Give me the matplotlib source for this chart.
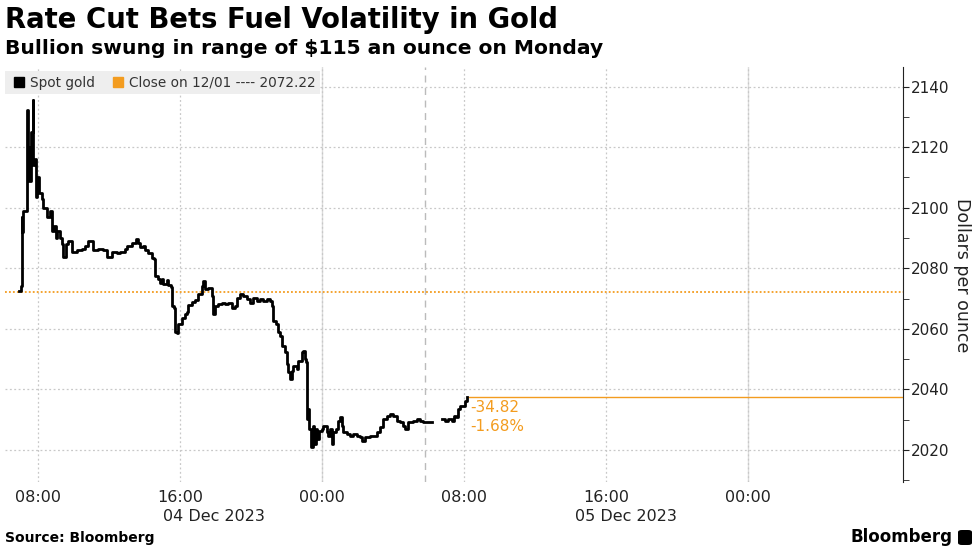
import numpy as np
import pandas as pd
import matplotlib
matplotlib.use("Agg")
import matplotlib.pyplot as plt
import matplotlib.dates as mdates
from matplotlib.lines import Line2D
from matplotlib.patches import FancyBboxPatch

# hours since 04 Dec 2023 00:00 and spot gold price (USD/oz)
hours = [6.95, 7.02, 7.08, 7.12, 7.17, 7.40, 7.45, 7.51, 7.59, 7.70, 7.74, 7.83, 7.89, 7.96,
         8.07, 8.21, 8.30, 8.49, 8.68, 8.77, 8.90, 9.00, 9.09, 9.24, 9.34, 9.43, 9.56, 9.71,
         9.90, 10.18, 10.46, 10.65, 10.83, 11.12, 11.40, 11.68, 11.87, 12.15, 12.43, 12.62,
         12.90, 13.00, 13.28, 13.50, 13.65, 13.75, 13.93, 14.03, 14.21, 14.41, 14.54, 14.59,
         14.78, 14.87, 14.97, 15.06, 15.25, 15.34, 15.49, 15.53, 15.66, 15.72, 15.85, 15.90,
         16.10, 16.28, 16.41, 16.47, 16.66, 16.85, 17.03, 17.22, 17.31, 17.41, 17.59, 17.79,
         17.88, 17.97, 18.16, 18.35, 18.54, 18.72, 18.91, 19.10, 19.19, 19.38, 19.57, 19.76,
         19.94, 20.13, 20.32, 20.51, 20.69, 20.88, 21.07, 21.17, 21.26, 21.41, 21.54, 21.63,
         21.73, 21.92, 22.01, 22.10, 22.20, 22.29, 22.38, 22.57, 22.66, 22.86, 22.95, 23.04,
         23.10, 23.14, 23.23, 23.29, 23.36, 23.48, 23.55, 23.66, 23.74, 23.85, 23.98, 24.07,
         24.26, 24.36, 24.45, 24.55, 24.64, 24.79, 24.92, 25.01, 25.11, 25.20, 25.39, 25.58,
         25.76, 25.95, 26.14, 26.24, 26.42, 26.70, 26.89, 27.08, 27.27, 27.45, 27.64, 27.83,
         28.02, 28.21, 28.39, 28.58, 28.68, 28.86, 29.14, 29.34, 29.52, 29.71, 30.20,
         30.74, 30.93, 31.11, 31.31, 31.44, 31.55, 31.68, 31.80, 31.91, 32.04, 32.17]
prices = [2072.5, 2074.0, 2096.8, 2092.0, 2099.0, 2132.4, 2120.0, 2108.8, 2125.0, 2135.7, 2114.0,
          2116.0, 2103.4, 2110.0, 2105.0, 2103.0, 2100.0, 2096.8, 2099.0, 2092.3, 2094.0, 2090.0,
          2092.4, 2090.0, 2088.0, 2083.6, 2088.0, 2089.0, 2085.3, 2086.0, 2086.5, 2087.5, 2089.0,
          2086.0, 2086.5, 2086.0, 2083.6, 2085.3, 2085.0, 2085.5,
          2086.4, 2087.4, 2088.5, 2089.8, 2088.5, 2087.0, 2087.5, 2086.0, 2085.0, 2083.5, 2083.0,
          2077.5, 2076.5, 2075.0, 2076.5, 2074.7, 2076.0, 2074.5, 2073.7, 2067.6, 2067.0, 2058.8,
          2058.5, 2061.5, 2063.5, 2064.8, 2065.5, 2068.0, 2069.0, 2069.5, 2071.4, 2074.2,
          2075.8, 2073.0, 2073.6, 2070.9, 2064.8, 2067.5, 2068.1, 2068.6, 2068.1, 2068.6, 2067.0,
          2067.5, 2070.3, 2071.4, 2070.9, 2069.8, 2068.6, 2070.3, 2069.2, 2069.8, 2069.2, 2069.8,
          2069.2, 2067.6, 2062.6, 2061.5, 2058.8, 2057.7, 2054.4, 2052.2, 2048.3, 2045.6, 2043.4,
          2046.0, 2047.8, 2046.7, 2049.5, 2052.2, 2052.8, 2050.0, 2049.0, 2030.2, 2033.5, 2026.9,
          2020.9, 2028.0, 2022.0, 2026.9, 2023.6, 2026.4, 2026.9, 2028.0, 2025.8, 2024.7, 2026.9,
          2022.0, 2025.8, 2026.9, 2029.7, 2030.8, 2028.0, 2025.8, 2025.3, 2024.7, 2025.3, 2024.7,
          2024.2, 2023.1, 2024.2, 2024.7, 2024.7, 2025.8, 2027.5, 2030.2, 2031.3, 2031.9, 2031.3,
          2029.7, 2029.1, 2028.0, 2026.9, 2029.1, 2029.6, 2030.2, 2029.6, 2029.3, np.nan,
          2030.2, 2029.6, 2030.2, 2029.6, 2031.3, 2030.8, 2033.5, 2034.6, 2034.5, 2036.3, 2037.4]

prev_close = 2072.22
close_label = "12/01"
y_ticks = [2020, 2040, 2060, 2080, 2100, 2120, 2140]
x_tick_hours = [8, 16, 24, 32, 40, 48]
day_labels = ["04 Dec 2023", "05 Dec 2023"]
day_label_hours = [17.9, 41.1]
session_break_hour = 29.8
x_range_hours = [6.14, 56.73]
y_range = [2009.5, 2146.6]

orange = "#f39c1f"
grid_c = "#c8c8c8"

base = pd.Timestamp("2023-12-04")
t = base + pd.to_timedelta(hours, unit="h")
last_t, last_p = t[-1], prices[-1]
change = last_p - prev_close
pct = change / prev_close * 100

fig = plt.figure(figsize=(9.77, 5.49), dpi=100)
ax = fig.add_axes([5 / 977, 1 - 481.7 / 549, 898 / 977, 415 / 549])

ax.set_xlim(base + pd.Timedelta(hours=x_range_hours[0]), base + pd.Timedelta(hours=x_range_hours[1]))
ax.set_ylim(*y_range)

# grid
ax.set_xticks(list(base + pd.to_timedelta(x_tick_hours, unit="h")))
ax.xaxis.set_major_formatter(mdates.DateFormatter("%H:%M"))
ax.yaxis.set_major_locator(matplotlib.ticker.FixedLocator(y_ticks))
ax.yaxis.set_minor_locator(matplotlib.ticker.MultipleLocator(10))
ax.grid(True, which="major", color=grid_c, linestyle=(0, (1.5, 2)), linewidth=0.9)
for d in [base + pd.Timedelta(days=1), base + pd.Timedelta(days=2)]:
    ax.axvline(d, color="#dcdcdc", linewidth=1, zorder=1)
ax.axvline(base + pd.Timedelta(hours=session_break_hour), color="#bbbbbb",
           linestyle=(0, (5, 4)), linewidth=1, zorder=1)

for s in ["left", "top", "bottom"]:
    ax.spines[s].set_visible(False)
ax.spines["right"].set_color("#222222")
ax.yaxis.tick_right()
ax.tick_params(axis="y", which="both", direction="out", length=4, color="#222222",
               labelsize=11, labelcolor="#222222", pad=2)
ax.tick_params(axis="x", length=0, labelsize=11.5, labelcolor="#222222", pad=6)

# series
ax.axhline(prev_close, color=orange, linestyle=(0, (1, 1.2)), linewidth=1.3, zorder=2)
ax.plot(t, prices, color="black", linewidth=2, drawstyle="steps-post", zorder=3)
ax.hlines(last_p, last_t, ax.get_xlim()[1], color=orange, linewidth=1, zorder=2)
ax.annotate(f"{change:.2f}\n{pct:.2f}%", xy=(last_t, last_p), xytext=(2, -2),
            textcoords="offset points", va="top", ha="left", color=orange,
            fontsize=11, linespacing=1.3)

# date labels under the time ticks
for h, lab in zip(day_label_hours, day_labels):
    ax.text(base + pd.Timedelta(hours=h), -0.066, lab, transform=ax.get_xaxis_transform(),
            ha="center", va="top", fontsize=11.5, color="#222222")

# legend
handles = [Line2D([], [], marker="s", color="black", linestyle="none", markersize=7),
           Line2D([], [], marker="s", color=orange, linestyle="none", markersize=7)]
leg = ax.legend(handles, ["Spot gold", f"Close on {close_label} ---- {prev_close:.2f}"],
                loc="upper left", bbox_to_anchor=(0.0, 0.99), ncol=2, fontsize=9.8,
                frameon=True, fancybox=False, borderpad=0.35, handletextpad=0.15,
                columnspacing=1.1, handlelength=1.3, borderaxespad=0)
leg.get_frame().set_facecolor("#eeeeee")
leg.get_frame().set_edgecolor("none")
leg.get_frame().set_alpha(1)
for txt in leg.get_texts():
    txt.set_color("#333333")

fig.text(962 / 977, 1 - 275 / 549, "Dollars per ounce", rotation=270, ha="center",
         va="center", fontsize=12.5, color="#222222")

# titles and footer
fig.text(5 / 977, 1 - 20 / 549, "Rate Cut Bets Fuel Volatility in Gold", fontsize=19.8,
         fontweight="bold", ha="left", va="center", color="black")
fig.text(5 / 977, 1 - 48 / 549, "Bullion swung in range of $115 an ounce on Monday",
         fontsize=14.6, fontweight="bold", ha="left", va="center", color="black")
fig.text(5 / 977, 1 - 538 / 549, "Source: Bloomberg", fontsize=10, fontweight="bold",
         ha="left", va="center", color="black")
fig.text(952 / 977, 1 - 537 / 549, "Bloomberg", fontsize=12, fontweight="bold",
         ha="right", va="center", color="black")
fig.patches.append(FancyBboxPatch((958 / 977, 1 - 545 / 549), 14 / 977, 15 / 549,
                                  boxstyle="round,pad=0,rounding_size=0.004",
                                  transform=fig.transFigure, facecolor="black",
                                  edgecolor="none"))

fig.savefig("out.png", dpi=100)
